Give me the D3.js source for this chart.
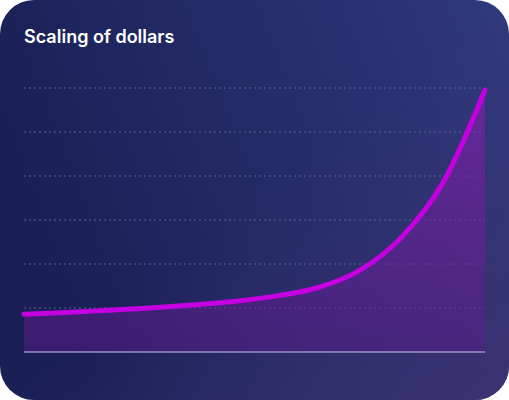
<!DOCTYPE html>
<html><head><meta charset="utf-8">
<script src="https://cdn.jsdelivr.net/npm/d3@7"></script>
<style>body{margin:0;background:#fff}svg{display:block}</style>
</head><body>
<svg width="509" height="400"></svg>
<script>
// data
const steps = [0,1,2,3,4,5,6,7,8,9,10,11]
const dollars = [0.86,0.9,0.95,1.0,1.07,1.15,1.27,1.46,1.85,2.6,3.85,5.95]
const gridValues = [1,2,3,4,5,6]

const svg = d3.select('svg')
const defs = svg.append('defs')

let bg = defs.append('linearGradient').attr('id','bg')
  .attr('x1','0%').attr('y1','30%').attr('x2','100%').attr('y2','0%')
bg.append('stop').attr('offset','0%').attr('stop-color','#1a1f55')
bg.append('stop').attr('offset','100%').attr('stop-color','#2f3a7c')

let bg2 = defs.append('linearGradient').attr('id','bg2')
  .attr('x1','0').attr('y1','0').attr('x2','1').attr('y2','1')
bg2.append('stop').attr('offset','50%').attr('stop-color','#3d3272').attr('stop-opacity',0)
bg2.append('stop').attr('offset','100%').attr('stop-color','#3d3272').attr('stop-opacity',0.9)

let area = defs.append('linearGradient').attr('id','area')
  .attr('x1','0').attr('y1','0').attr('x2','0').attr('y2','1')
area.append('stop').attr('offset','0%').attr('stop-color','#8a1fb0').attr('stop-opacity',0.6)
area.append('stop').attr('offset','100%').attr('stop-color','#5a1a8a').attr('stop-opacity',0.5)

svg.append('rect')
  .attr('x',0).attr('y',0).attr('width',509).attr('height',400)
  .attr('rx',34).attr('fill','url(#bg)')
svg.append('rect')
  .attr('x',0).attr('y',0).attr('width',509).attr('height',400)
  .attr('rx',34).attr('fill','url(#bg2)')

svg.append('text')
  .attr('x',24).attr('y',43)
  .attr('fill','#fff')
  .attr('font-family','Inter, sans-serif')
  .attr('font-size',18).attr('font-weight',600)
  .text('Scaling of dollars')

const x = d3.scaleLinear().domain([0,11]).range([24,485])
const y = d3.scaleLinear().domain([0,6]).range([352,88])

// grid
svg.selectAll('.grid').data(gridValues).enter().append('line')
  .attr('x1',24).attr('x2',485)
  .attr('y1',d => y(d)).attr('y2',d => y(d))
  .attr('stroke','#5a6399').attr('stroke-width',1)
  .attr('stroke-dasharray','2,3')

const pts = steps.map((s,i) => [s, dollars[i]])

svg.append('path').datum(pts)
  .attr('d', d3.area().x(d => x(d[0])).y0(y(0)).y1(d => y(d[1])).curve(d3.curveMonotoneX))
  .attr('fill','url(#area)')

svg.append('line')
  .attr('x1',24).attr('x2',485).attr('y1',y(0)).attr('y2',y(0))
  .attr('stroke','#9a8fc0').attr('stroke-width',1.5)

svg.append('path').datum(pts)
  .attr('d', d3.line().x(d => x(d[0])).y(d => y(d[1])).curve(d3.curveMonotoneX))
  .attr('fill','none').attr('stroke','#c400e0')
  .attr('stroke-width',5).attr('stroke-linecap','round')
</script>
</body></html>
